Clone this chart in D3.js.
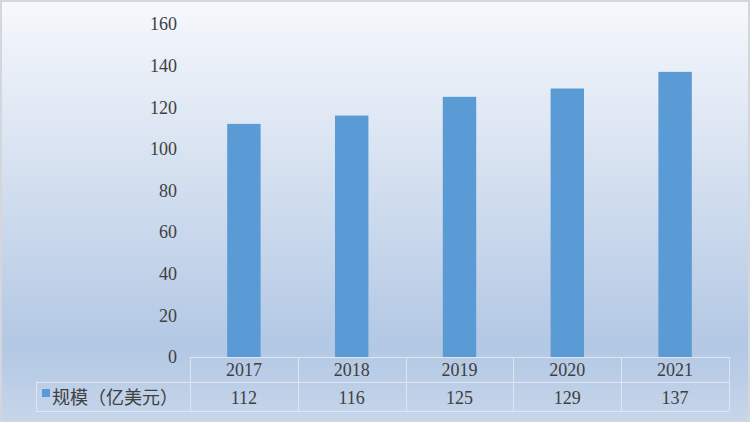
<!DOCTYPE html>
<html><head><meta charset="utf-8">
<script src="https://cdn.jsdelivr.net/npm/d3@7"></script>
<style>html,body{margin:0;padding:0;background:#fff;}svg{display:block;}</style>
</head><body>
<script>
const categories = ["2017","2018","2019","2020","2021"];
const values = [112,116,125,129,137];
const seriesName = "规模（亿美元）";
const yTicks = [0,20,40,60,80,100,120,140,160];

const W = 752, H = 424;
const svg = d3.select("body").append("svg").attr("width", W).attr("height", H);
const defs = svg.append("defs");
const g = defs.append("linearGradient").attr("id","bg").attr("x1",0).attr("y1",0).attr("x2",0).attr("y2",1);
g.append("stop").attr("offset","0").attr("stop-color","#f6f8fc");
g.append("stop").attr("offset","0.82").attr("stop-color","#b3c8e4");
g.append("stop").attr("offset","1").attr("stop-color","#c6d5ea");

svg.append("rect").attr("x",1).attr("y",1).attr("width",748).attr("height",420)
  .attr("fill","url(#bg)").attr("stroke","#d3d6db").attr("stroke-width",2);

const x0 = 190, x1 = 729, yTop = 24, yBase = 357;
const x = d3.scaleBand().domain(categories).range([x0, x1]).paddingInner(0).paddingOuter(0);
const y = d3.scaleLinear().domain([0,160]).range([yBase, yTop]);
const barW = x.bandwidth() * 0.31;

const numFont = "'Liberation Serif','DejaVu Serif',serif";

// y tick labels
svg.append("g").selectAll("text").data(yTicks).join("text")
  .attr("x", 177).attr("y", d => y(d)).attr("dy","0.35em")
  .attr("text-anchor","end").attr("font-family",numFont).attr("font-size",18)
  .attr("fill","#404040").text(d => d);

// bars
svg.append("g").selectAll("rect").data(values).join("rect")
  .attr("x",(d,i)=> x(categories[i]) + (x.bandwidth()-barW)/2)
  .attr("y", d => y(d)).attr("width", barW).attr("height", d => yBase - y(d))
  .attr("fill","#5b9bd5");

// data table
const lineC = "#dde6f1";
const row1 = 382, row2 = 411, tableLeft = 36;
const tg = svg.append("g").attr("stroke", lineC).attr("stroke-width",1).attr("fill","none");
tg.append("line").attr("x1",x0).attr("x2",x1).attr("y1",yBase+0.5).attr("y2",yBase+0.5);
tg.append("line").attr("x1",tableLeft).attr("x2",x1).attr("y1",row1+0.5).attr("y2",row1+0.5);
tg.append("line").attr("x1",tableLeft).attr("x2",x1).attr("y1",row2+0.5).attr("y2",row2+0.5);
tg.append("line").attr("x1",tableLeft+0.5).attr("x2",tableLeft+0.5).attr("y1",row1).attr("y2",row2);
const vx = categories.map(c => x(c)).concat([x1]);
tg.selectAll("line.v").data(vx).join("line").attr("class","v")
  .attr("x1",d=>Math.round(d)+0.5).attr("x2",d=>Math.round(d)+0.5).attr("y1",yBase).attr("y2",row2);

svg.append("g").selectAll("text").data(categories).join("text")
  .attr("x", d => x(d) + x.bandwidth()/2).attr("y", (yBase+row1)/2).attr("dy","0.35em")
  .attr("text-anchor","middle").attr("font-family",numFont).attr("font-size",18)
  .attr("fill","#404040").text(d => d);
svg.append("g").selectAll("text").data(values).join("text")
  .attr("x", (d,i) => x(categories[i]) + x.bandwidth()/2).attr("y", (row1+row2)/2+1).attr("dy","0.35em")
  .attr("text-anchor","middle").attr("font-family",numFont).attr("font-size",18)
  .attr("fill","#404040").text(d => d);

// legend key + series name
svg.append("rect").attr("x",42).attr("y",389).attr("width",8).attr("height",8).attr("fill","#5b9bd5");
svg.append("text").attr("x",52).attr("y",(row1+row2)/2+1).attr("dy","0.35em")
  .attr("font-family","'Noto Sans CJK SC',sans-serif").attr("font-size",18)
  .attr("fill","#404040").text(seriesName);
</script>
</body></html>
